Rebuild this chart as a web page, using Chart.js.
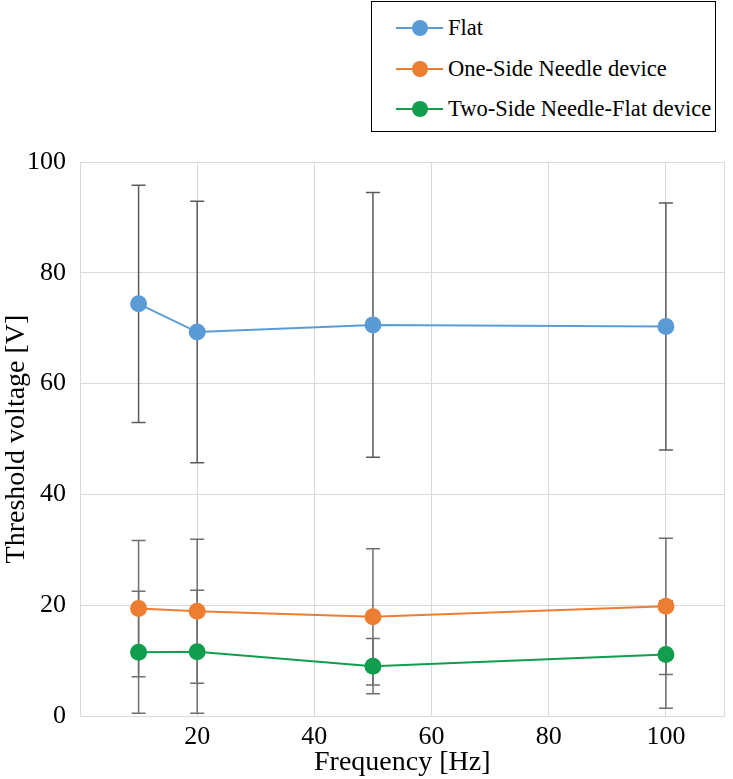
<!DOCTYPE html>
<html>
<head>
<meta charset="utf-8">
<script src="https://cdn.jsdelivr.net/npm/chart.js@4"></script>
<style>
  body { margin: 0; background: #fff; }
  #wrap { position: relative; width: 733px; height: 779px; }
  #legend {
    position: absolute; left: 371px; top: 1px; width: 343px; height: 129px;
    border: 1px solid #000; background: #fff;
    font-family: 'Liberation Serif', 'Times New Roman', serif; font-size: 22.5px; color: #000;
  }
  .item { position: absolute; left: 24px; height: 26px; display: flex; align-items: center; }
  .mark { position: relative; width: 47px; height: 26px; margin-right: 5px; }
  .mark .ln { position: absolute; left: 0; right: 0; top: 12px; height: 2px; }
  .mark .dot { position: absolute; left: 16px; top: 5px; width: 16px; height: 16px; border-radius: 50%; }
</style>
</head>
<body>
<div id="wrap">
  <canvas id="chart" width="733" height="779"></canvas>
  <div id="legend"></div>
</div>
<script>
// Frequency [Hz]
const freqs = [10, 20, 50, 100];

// Series labels and colours
const seriesNames = ["Flat", "One-Side Needle device", "Two-Side Needle-Flat device"];
const seriesColors = ["#5b9bd5", "#ed7d31", "#109d4e"];

// Threshold voltage [V]
const flatValues = [74.4, 69.3, 70.6, 70.3];
const oneSideValues = [19.4, 18.9, 17.9, 19.8];
const twoSideValues = [11.5, 11.6, 9.0, 11.1];

// Error bar half-lengths
const flatErrors = [21.4, 23.6, 23.9, 22.3];
const oneSideErrors = [12.3, 13.0, 12.3, 12.3];
const twoSideErrors = [11.0, 11.1, 5.0, 9.7];

const xTicks = [20, 40, 60, 80, 100];
const yTicks = [0, 20, 40, 60, 80, 100];

const allValues = [flatValues, oneSideValues, twoSideValues];
const allErrors = [flatErrors, oneSideErrors, twoSideErrors];
const barColors = ["#5a5a5a", "#6e6e6e", "#6e6e6e"];

const serif = "'Liberation Serif', 'Times New Roman', serif";

// draw error bars under the markers
const errorBars = {
  id: 'errorBars',
  beforeDatasetsDraw(chart) {
    const ctx = chart.ctx;
    const xs = chart.scales.x, ys = chart.scales.y;
    ctx.save();
    ctx.lineWidth = 1.5;
    allValues.forEach((vals, s) => {
      ctx.strokeStyle = barColors[s];
      vals.forEach((v, i) => {
        const px = xs.getPixelForValue(freqs[i]);
        const top = ys.getPixelForValue(v + allErrors[s][i]);
        const bot = ys.getPixelForValue(v - allErrors[s][i]);
        ctx.beginPath();
        ctx.moveTo(px, top); ctx.lineTo(px, bot);
        ctx.moveTo(px - 7, top); ctx.lineTo(px + 7, top);
        ctx.moveTo(px - 7, bot); ctx.lineTo(px + 7, bot);
        ctx.stroke();
      });
    });
    ctx.restore();
  }
};

const datasets = allValues.map((vals, s) => ({
  label: seriesNames[s],
  data: vals.map((v, i) => ({x: freqs[i], y: v})),
  borderColor: seriesColors[s],
  backgroundColor: seriesColors[s],
  borderWidth: 2,
  pointRadius: 8.5,
  pointHoverRadius: 8.5,
  pointBorderWidth: 0,
  showLine: true,
  fill: false
}));

new Chart(document.getElementById("chart"), {
  type: "scatter",
  data: { datasets },
  plugins: [errorBars],
  options: {
    responsive: false,
    animation: false,
    devicePixelRatio: 1,
    layout: { padding: { top: 162, right: 5 } },
    plugins: { legend: { display: false }, tooltip: { enabled: false } },
    scales: {
      x: {
        type: "linear", min: 0, max: 110,
        afterBuildTicks: axis => { axis.ticks = [0].concat(xTicks, [110]).map(v => ({value: v})); },
        afterFit: axis => { axis.height = 63; },
        grid: { color: "#d9d9d9", drawTicks: false },
        border: { color: "#d9d9d9" },
        ticks: {
          padding: 6, color: "#000", font: { family: serif, size: 26 },
          callback: v => xTicks.includes(v) ? v : ""
        },
        title: { display: true, text: "Frequency [Hz]", color: "#000", padding: 0, font: { family: serif, size: 28 } }
      },
      y: {
        min: 0, max: 100,
        afterBuildTicks: axis => { axis.ticks = yTicks.map(v => ({value: v})); },
        afterFit: axis => { axis.width = 80; },
        grid: { color: "#d9d9d9", drawTicks: false },
        border: { color: "#d9d9d9" },
        ticks: { padding: 14, color: "#000", font: { family: serif, size: 26 } },
        title: { display: true, text: "Threshold voltage [V]", color: "#000", padding: 0, font: { family: serif, size: 28 } }
      }
    }
  }
});

// legend box
const legend = document.getElementById("legend");
seriesNames.forEach((name, s) => {
  const item = document.createElement("div");
  item.className = "item";
  item.style.top = (13 + s * 40.5) + "px";
  item.innerHTML = '<span class="mark"><span class="ln" style="background:' + seriesColors[s] +
    '"></span><span class="dot" style="background:' + seriesColors[s] + '"></span></span>';
  const txt = document.createElement("span");
  txt.textContent = name;
  item.appendChild(txt);
  legend.appendChild(item);
});
</script>
</body>
</html>
